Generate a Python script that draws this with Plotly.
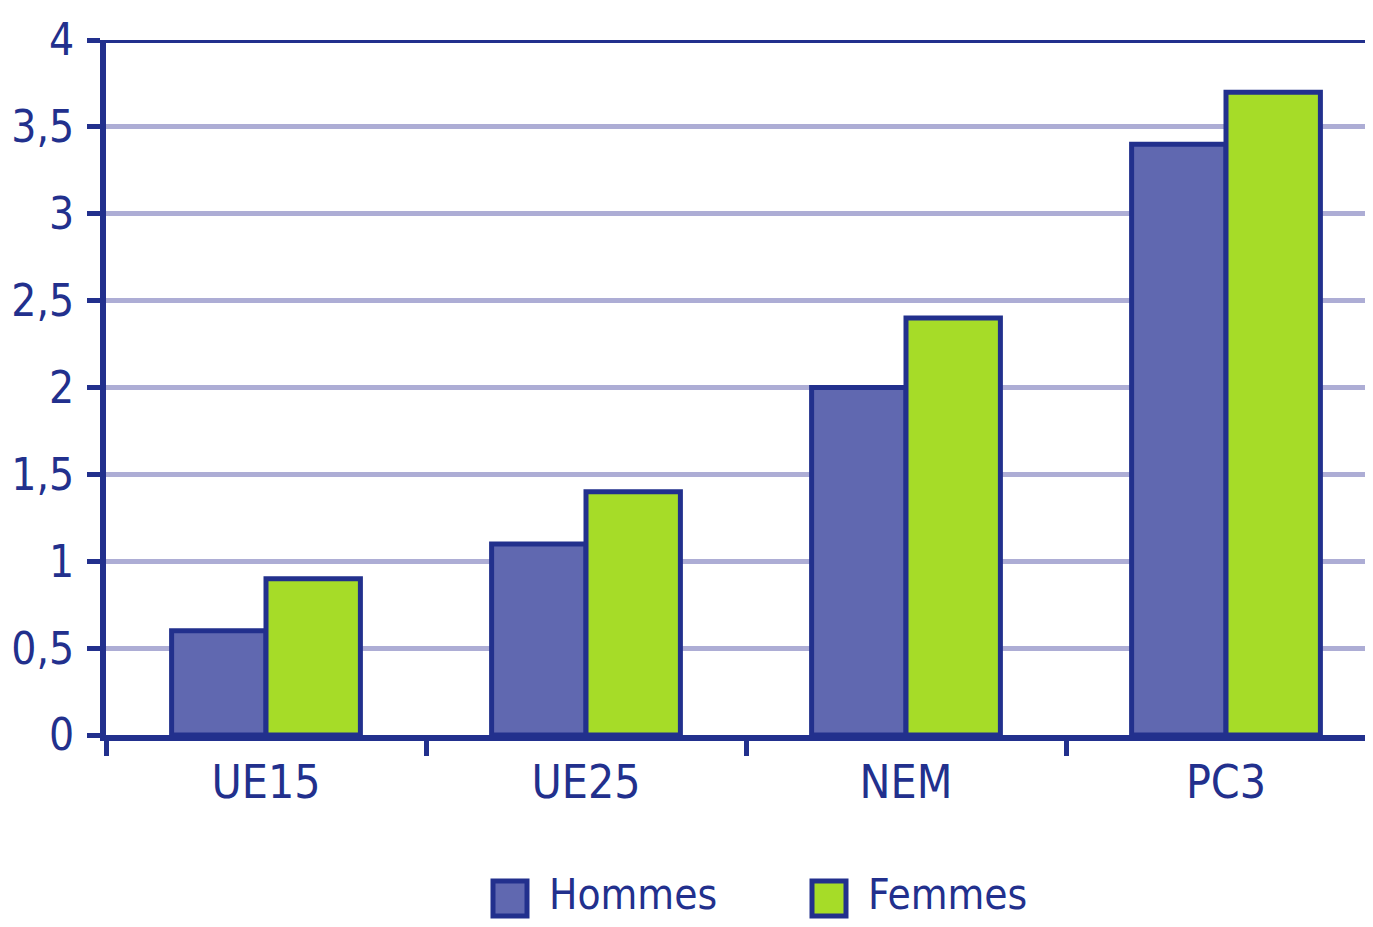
import plotly.graph_objects as go

categories = ["UE15", "UE25", "NEM", "PC3"]
hommes = [0.6, 1.1, 2.0, 3.4]
femmes = [0.9, 1.4, 2.4, 3.7]
y_tickvals = [0, 0.5, 1, 1.5, 2, 2.5, 3, 3.5, 4]
y_ticktext = ["0", "0,5", "1", "1,5", "2", "2,5", "3", "3,5", "4"]
series_names = ["Hommes", "Femmes"]

NAVY = "#22308D"
C_H = "#6068B0"
C_F = "#A6DC28"
GRID = "#ADADD5"
FONT = "DejaVu Sans Condensed, Liberation Sans Narrow, sans-serif"

OFF = 8  # page body margin
W, H = 1373 - OFF, 927 - 2 * OFF
ML, MR, MT = 98, 0, 32
MB = H - (735 - OFF)
PW = W - ML - MR
PH = H - MT - MB

fig = go.Figure()
fig.add_trace(go.Bar(x=categories, y=hommes, name=series_names[0],
                     marker=dict(color=C_H, line=dict(color=NAVY, width=5)),
                     showlegend=False))
fig.add_trace(go.Bar(x=categories, y=femmes, name=series_names[1],
                     marker=dict(color=C_F, line=dict(color=NAVY, width=5)),
                     showlegend=False))

fig.update_layout(
    width=W, height=H,
    margin=dict(l=ML, r=MR, t=MT, b=MB, autoexpand=False),
    paper_bgcolor="white", plot_bgcolor="white",
    barmode="group", bargap=0.41, bargroupgap=0,
    font=dict(family=FONT, color=NAVY, size=46),
)
fig.update_yaxes(
    range=[0, 4], tickvals=y_tickvals, ticktext=y_ticktext,
    showgrid=True, gridcolor=GRID, gridwidth=5,
    showline=True, linecolor=NAVY, linewidth=6,
    ticks="outside", ticklen=13, tickwidth=5, tickcolor=NAVY,
    zeroline=False, tickfont=dict(size=44, family=FONT, color=NAVY),
    ticklabelstandoff=4, automargin=False,
)
fig.update_xaxes(
    range=[-0.5, -0.5 + PW / 320], tickson="boundaries",
    ticks="outside", ticklen=15, tickwidth=5, tickcolor=NAVY,
    showline=True, linecolor=NAVY, linewidth=6, showgrid=False,
    tickfont=dict(size=46, family=FONT, color=NAVY), automargin=False,
    ticklabelstandoff=2,
)
# dark top line at y = 4
fig.add_shape(type="line", xref="paper", yref="y", x0=-14 / PW, x1=1, y0=4, y1=4,
              line=dict(color=NAVY, width=6), layer="above")


def px_x(page_x):
    return (page_x - OFF - ML) / PW


def px_y(page_y):
    return 1 - (page_y - OFF - MT) / PH


# manual legend
legend_x_px = [493, 812]
legend_colors = [C_H, C_F]
for px, col, name in zip(legend_x_px, legend_colors, series_names):
    fig.add_shape(type="rect", xref="paper", yref="paper",
                  x0=px_x(px), x1=px_x(px + 34),
                  y0=px_y(916), y1=px_y(881),
                  fillcolor=col, line=dict(color=NAVY, width=5))
    fig.add_annotation(xref="paper", yref="paper", x=px_x(px + 54),
                       y=px_y(895), text=name, showarrow=False,
                       xanchor="left", yanchor="middle",
                       font=dict(size=42, family=FONT, color=NAVY))

fig.write_html("out.html")
